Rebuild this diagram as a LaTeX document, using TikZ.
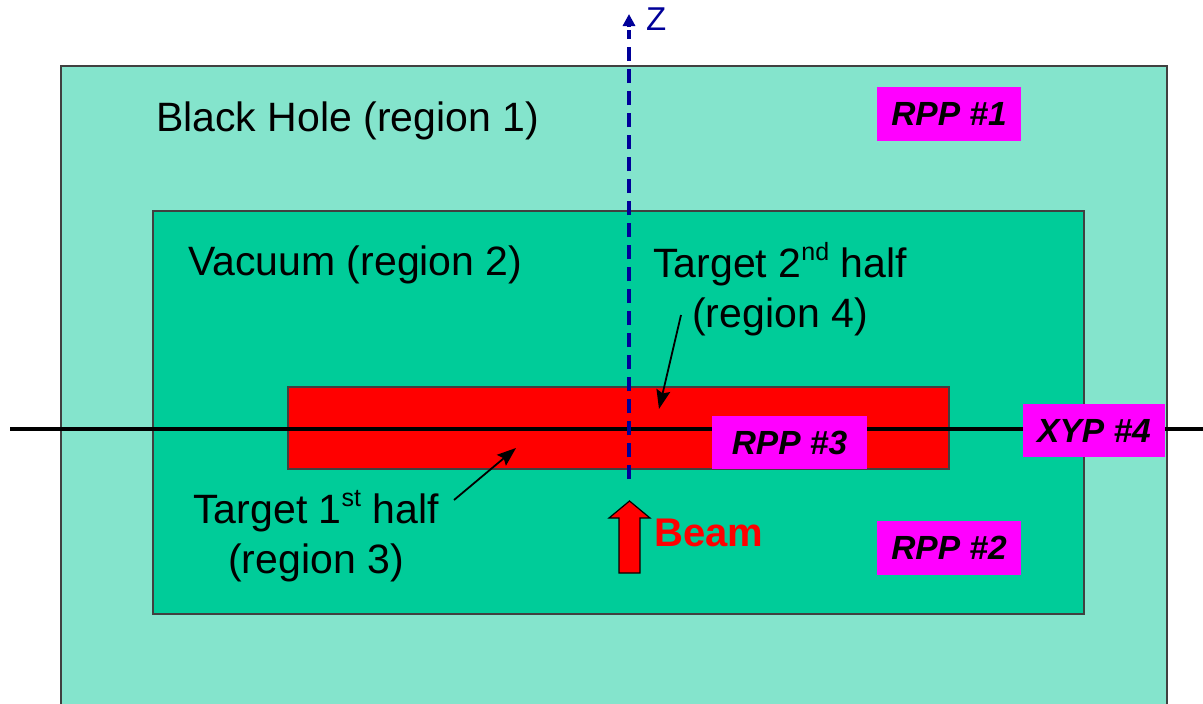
\documentclass[tikz,border=0pt]{standalone}
\usepackage{fontspec}
\setmainfont{Liberation Sans}
\usetikzlibrary{arrows.meta}
\definecolor{bhole}{RGB}{132,228,204}
\definecolor{vac}{RGB}{0,204,153}
\definecolor{zblue}{RGB}{0,0,153}
\definecolor{mag}{RGB}{255,0,255}
\newcommand{\supx}[1]{\raisebox{0.42em}{\fontsize{25}{30}\selectfont #1}}
\tikzset{
  region/.style={draw=black!75, line width=1.2pt},
  lbl/.style={inner sep=0pt, font=\fontsize{41}{50}\selectfont, align=center},
  tagbox/.style={fill=mag, inner sep=0pt, font=\fontsize{33.5}{40}\selectfont\bfseries\itshape},
  ptr/.style={line width=1.8pt, -{Stealth[length=19pt,width=14pt,inset=3pt]}},
}
\begin{document}
\begin{tikzpicture}[x=1pt,y=-1pt]
\useasboundingbox (0,0) rectangle (1203,704);
\clip (0,0) rectangle (1203,704);
% regions
\draw[region, fill=bhole] (61,66) rectangle (1167,720);
\draw[region, fill=vac] (153,211) rectangle (1084,614);
\draw[region, fill=red] (288,387) rectangle (949,469);
% horizontal beam line
\coordinate (hl) at (10,429);
\coordinate (hr) at (1203,429);
\draw[line width=3.3pt] (hl) -- (hr);
% z axis
\coordinate (zb) at (629,479);
\coordinate (zt) at (629,14);
\draw[zblue, line width=3.5pt, dash pattern=on 14pt off 8pt] (zb) -- (629,30);
\draw[zblue, line width=3.5pt, -{Triangle[length=12pt,width=12pt]}] (629,27) -- (zt);
\node[inner sep=0pt, anchor=west, text=zblue, font=\fontsize{33}{38}\selectfont] (zlab) at (646,19) {Z};
% labels
\node[lbl, anchor=west] (bh) at (156,121) {Black Hole (region 1)};
\node[lbl, anchor=west] (vacl) at (188,265) {Vacuum (region 2)};
\node[lbl] (t2) at (780,289) {Target 2\supx{nd} half\\(region 4)};
\node[lbl] (t1) at (316,536) {Target 1\supx{st} half\\(region 3)};
% pointers
\coordinate (p1s) at (454,500);
\coordinate (p1e) at (516,448);
\draw[ptr] (p1s) -- (p1e);
\coordinate (p2s) at (681,315);
\coordinate (p2e) at (659,409);
\draw[ptr] (p2s) -- (p2e);
% tag boxes
\node[tagbox, minimum width=144pt, minimum height=54pt] (rpp1) at (949,114) {RPP \#1};
\node[tagbox, minimum width=144pt, minimum height=54pt] (rpp2) at (949,548) {RPP \#2};
\node[tagbox, minimum width=155pt, minimum height=53pt] (rpp3) at (789.5,442.5) {RPP \#3};
\node[tagbox, minimum width=142pt, minimum height=53pt] (xyp4) at (1094,430.5) {XYP \#4};
% beam arrow
\draw[fill=red, line width=1.2pt, line join=miter]
  (619,573) -- (619,518) -- (609,518) -- (629.5,501) -- (650,518) -- (640,518) -- (640,573) -- cycle;
\node[anchor=west, inner sep=0pt, text=red, font=\fontsize{40}{48}\selectfont\bfseries] (beam) at (654,533) {Beam};
\end{tikzpicture}
\end{document}
